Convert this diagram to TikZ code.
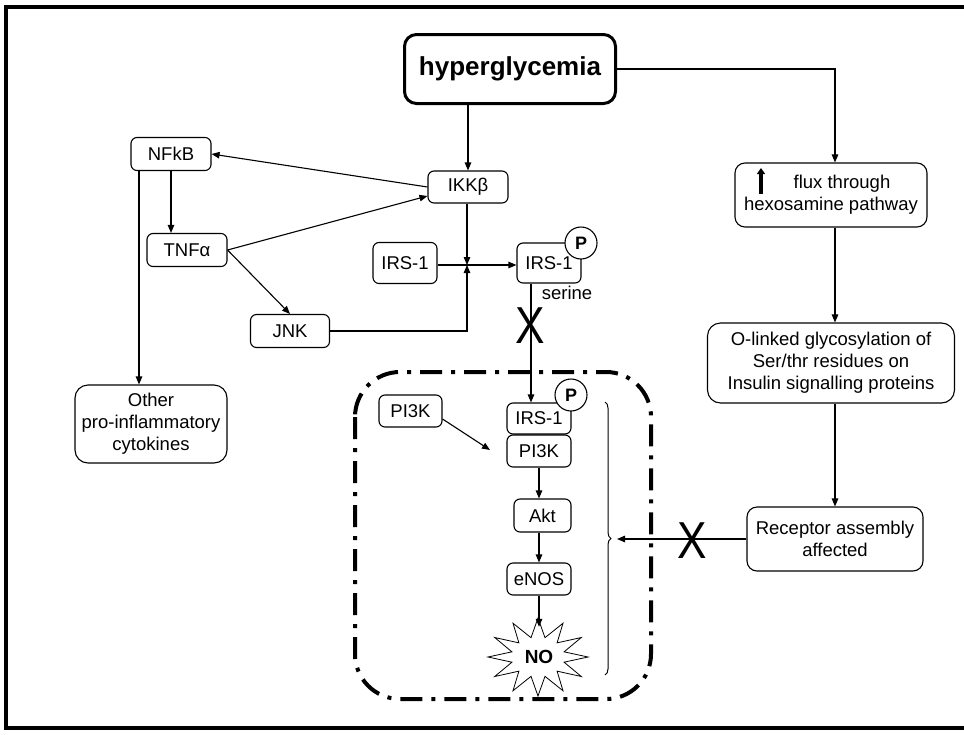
\documentclass[tikz,border=0pt]{standalone}
\usepackage{fontspec}
\setmainfont{Liberation Sans}
\usetikzlibrary{arrows.meta,decorations.pathreplacing,calc}
\begin{document}
\begin{tikzpicture}[x=1pt,y=-1pt,
  box/.style={draw,rounded corners=6pt,line width=1.1pt,align=center,
    font=\fontsize{18.5}{22}\selectfont,inner sep=0pt},
  bigbox/.style={box,rounded corners=13pt},
  arr/.style={-{Triangle[length=8pt,width=6.5pt]},line width=1.1pt},
  pcirc/.style={draw,circle,fill=white,line width=1.1pt,minimum size=32pt,inner sep=0pt,
    font=\bfseries\fontsize{18}{18}\selectfont},
  xmark/.style={inner sep=0pt,font=\fontsize{52}{52}\selectfont},
  lbl/.style={inner sep=0pt,font=\fontsize{18.5}{22}\selectfont}]
\useasboundingbox (0,0) rectangle (964,734);
% frame
\draw[line width=4pt] (966,7) -- (6,7) -- (6,728) -- (966,728);

% nodes
\node[draw,line width=3pt,rounded corners=12pt,minimum width=211pt,minimum height=69pt,
  inner sep=0pt,font=\bfseries\fontsize{26}{26}\selectfont] (hyper) at (510,69) {hyperglycemia};
\node[box,minimum width=80pt,minimum height=33pt] (NFkB) at (171,154) {NFkB};
\node[box,minimum width=80pt,minimum height=32pt] (IKKb) at (468,187) {IKKβ};
\node[box,minimum width=80pt,minimum height=33pt] (TNFa) at (187,250) {TNFα};
\node[box,minimum width=64pt,minimum height=41pt] (IRS1a) at (405,263) {IRS-1};
\node[box,minimum width=79pt,minimum height=33pt] (JNK) at (290,331) {JNK};
\node[box,minimum width=64pt,minimum height=40pt] (IRS1b) at (549,263) {IRS-1};
\node[pcirc] (P1) at (581,243) {P};
\node[lbl] (ser) at (567,293) {serine};
\node[xmark] (X1) at (530,326) {\scalebox{0.85}[1]{X}};

\node[bigbox,minimum width=152pt,minimum height=78pt] (Other) at (151,424)
  {Other\\pro-inflammatory\\cytokines};

% dashed compartment
\draw[line width=4pt,dash pattern=on 22pt off 9pt on 4pt off 9pt,rounded corners=45pt]
  (355,372) rectangle (651,699);

\node[box,minimum width=64pt,minimum height=31pt] (IRS1c) at (539,418.5) {IRS-1};
\node[pcirc] (P2) at (571,395) {P};
\node[box,minimum width=64pt,minimum height=32pt] (PI3Kin) at (539,451) {PI3K};
\node[box,minimum width=63pt,minimum height=32pt] (PI3Kout) at (410.5,411) {PI3K};
\node[box,minimum width=57pt,minimum height=33pt] (Akt) at (542.5,515.5) {Akt};
\node[box,minimum width=64pt,minimum height=32pt] (eNOS) at (539,579) {eNOS};
\node[inner sep=0pt,minimum height=60pt,font=\bfseries\fontsize{19}{19}\selectfont] (NO) at (539,657) {NO};
\draw[line width=0.8pt,shift={(538,657)}] (90:50 and 39)
  \foreach \i in {0,...,11} { -- ({105+\i*30}:27 and 20) -- ({120+\i*30}:50 and 39) } -- cycle;

% brace
\draw[decorate,decoration={brace,amplitude=6pt},line width=1pt] (605,402) -- (605,675);
\coordinate (btip) at (617,539);

% right column
\node[box,rounded corners=10pt,minimum width=192pt,minimum height=64pt] (flux) at (831,195)
  {\hspace*{22pt}flux through\\hexosamine pathway};
\draw[line width=3.2pt,-{Triangle[length=6pt,width=8pt]}] (761,194) -- (761,168);
\node[bigbox,minimum width=247pt,minimum height=80pt] (Olinked) at (831,363)
  {O-linked glycosylation of\\Ser/thr residues on\\Insulin signalling proteins};
\node[box,rounded corners=10pt,minimum width=176pt,minimum height=64pt] (Receptor) at (835,539)
  {Receptor assembly\\affected};
\node[xmark] (X2) at (692,541) {\scalebox{0.85}[1]{X}};

% coordinates
\coordinate (junc) at (467,265);
\coordinate (xc) at (531,0);
\coordinate (rc) at (835,0);
\coordinate (lc) at (139,0);
\coordinate (pEnd) at (490,450);

% connectors
\draw[arr] (hyper.south -| IKKb.north) -- (IKKb.north);
\draw[arr] (hyper.east) -| (flux.north -| rc);
\draw[arr] (flux.south -| rc) -- (Olinked.north -| rc);
\draw[arr] (Olinked.south -| rc) -- (Receptor.north);
\draw[arr] (Receptor.west) -- (btip);

\draw[arr] (IKKb.west) -- (NFkB.east);
\draw[arr] (TNFa.east) -- ([yshift=-9pt]IKKb.west);
\draw[arr] (TNFa.east) -- (JNK.north);
\draw[arr] (NFkB.south) -- (NFkB.south |- TNFa.north);
\draw[arr] (NFkB.south -| lc) -- (Other.north -| lc);

\draw[arr] (IKKb.south -| junc) -- (junc);
\draw[arr] (JNK.east) -| (junc);
\draw[arr] (IRS1a.east |- junc) -- (IRS1b.west |- junc);
\draw[arr] (IRS1b.south -| xc) -- (IRS1c.north -| xc);

\draw[arr] ([yshift=-8pt]PI3Kout.east) -- (pEnd);
\draw[arr] (PI3Kin.south) -- (PI3Kin.south |- Akt.north);
\draw[arr] (eNOS.north |- Akt.south) -- (eNOS.north);
\draw[arr] (eNOS.south) -- (NO.north);
\end{tikzpicture}
\end{document}
